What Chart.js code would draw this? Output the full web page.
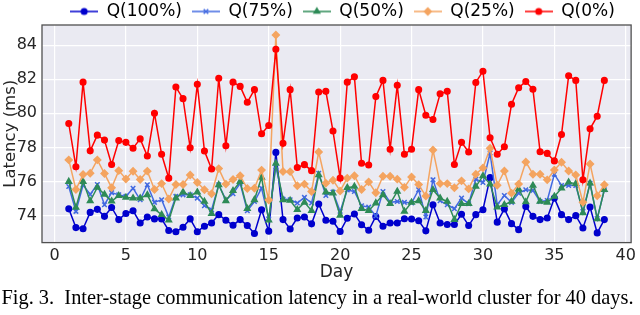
<!DOCTYPE html>
<html>
<head>
<meta charset="utf-8">
<script src="https://cdn.jsdelivr.net/npm/chart.js@4"></script>
<style>
  html, body { margin: 0; padding: 0; background: #fff; }
  #wrap { width: 640px; height: 315px; }
</style>
</head>
<body>
<div id="wrap"><canvas id="lat" width="640" height="315"></canvas></div>
<script>
// dias (cada medio dia)
const days = [1,1.5,2,2.5,3,3.5,4,4.5,5,5.5,6,6.5,7,7.5,8,8.5,9,9.5,10,10.5,
  11,11.5,12,12.5,13,13.5,14,14.5,15,15.5,16,16.5,17,17.5,18,18.5,19,19.5,20,20.5,
  21,21.5,22,22.5,23,23.5,24,24.5,25,25.5,26,26.5,27,27.5,28,28.5,29,29.5,30,30.5,
  31,31.5,32,32.5,33,33.5,34,34.5,35,35.5,36,36.5,37,37.5,38,38.5];

const q100 = [74.4,73.3,73.23,74.19,74.37,73.96,74.48,73.77,74.13,74.29,
  73.57,73.92,73.81,73.81,73.13,73.06,73.32,73.81,73.06,73.38,
  73.57,74.06,73.73,73.44,73.77,73.42,72.95,74.35,73.09,77.71,
  73.77,73.22,73.86,73.92,73.52,74.68,73.73,73.67,73.07,73.85,
  74.1,73.47,73.14,73.95,73.38,73.57,73.57,73.82,73.8,73.7,
  73.11,74.64,73.57,73.48,73.48,74.08,73.42,74.06,74.35,76.23,
  73.62,74.39,73.53,73.18,74.54,73.96,73.77,73.86,75.03,74.06,
  73.77,74.0,73.28,74.51,72.99,73.77];

const q75 = [75.71,74.25,75.8,75.25,75.83,74.64,75.35,75.22,75.13,75.61,
  74.93,75.81,74.78,74.93,73.92,75.13,75.22,75.22,75.03,74.58,
  74.35,75.81,74.93,75.28,75.9,74.29,74.83,75.61,73.81,76.87,
  74.97,74.93,74.74,75.07,74.74,76.49,75.18,75.38,74.25,75.5,
  75.42,74.58,74.5,73.98,75.42,74.78,74.83,74.78,74.74,75.52,
  73.92,76.1,74.87,74.64,74.41,75.03,74.7,76.14,75.94,77.67,
  74.64,75.18,74.78,75.32,75.52,75.48,74.83,74.89,76.43,75.77,
  75.77,75.77,74.25,75.9,73.83,75.52];

const q50 = [76.0,74.48,76.0,74.86,75.65,75.25,74.85,75.17,75.07,75.03,
  75.03,75.22,74.39,74.06,73.73,75.03,75.38,75.17,75.38,74.83,
  74.12,75.81,74.87,75.46,76.0,74.41,74.93,76.25,73.73,77.07,
  74.93,74.89,74.35,74.78,74.29,76.39,75.38,75.32,74.02,75.64,
  75.71,74.41,74.29,74.74,75.22,74.7,75.42,74.25,74.78,74.87,
  74.29,75.52,75.03,74.83,73.77,74.7,74.7,75.71,76.33,75.85,
  74.5,74.64,74.83,75.55,74.8,75.77,74.83,74.78,75.13,75.61,
  75.96,75.87,74.16,75.9,73.81,75.52];

const q25 = [77.27,75.53,76.41,76.49,77.27,76.47,75.64,76.64,76.15,76.6,
  76.12,76.61,75.53,75.88,74.98,75.83,75.83,76.38,75.94,75.52,
  75.28,76.76,75.85,76.12,76.34,75.59,75.61,76.67,74.92,84.59,
  76.59,76.58,75.75,75.85,75.42,77.73,75.9,76.08,75.45,76.2,
  76.34,75.53,75.98,75.34,76.31,76.31,76.14,75.66,76.27,75.82,
  75.15,77.85,75.88,75.88,75.64,76.04,75.57,76.43,76.8,77.95,
  75.78,76.62,75.32,75.85,77.15,76.43,76.43,76.1,76.68,77.13,
  76.62,76.39,74.78,77.03,75.17,75.81];

const q0 = [79.4,76.87,81.83,77.8,78.72,78.43,77.0,78.4,78.3,77.95,
  78.5,77.5,80.0,77.6,76.2,81.54,80.86,77.98,81.7,77.79,
  76.74,82.06,78.1,81.83,81.58,80.65,81.39,78.8,79.29,83.76,
  78.24,81.39,76.82,76.99,76.64,81.25,81.29,78.96,76.2,81.83,
  82.14,77.07,76.97,80.98,81.93,77.89,81.64,77.6,77.89,81.39,
  79.89,79.64,81.15,81.29,77.0,78.3,77.73,81.81,82.47,78.57,
  77.6,78.04,80.53,81.5,81.87,81.41,77.75,77.65,77.21,78.76,
  82.2,81.93,76.1,79.09,79.83,81.93];

const seriesNames = ['Q(100%)', 'Q(75%)', 'Q(50%)', 'Q(25%)', 'Q(0%)'];
const xTicks = [0,5,10,15,20,25,30,35,40];
const yTicks = [74,76,78,80,82,84];

// estilos de cada serie
const colores = ['#0000cd', '#4169e1', '#2e8b57', '#f4a460', '#ff0000'];
const marcas = ['circle', 'crossRot', 'triangle', 'rectRot', 'circle'];
const radios = [2.8, 3.2, 3.2, 3.4, 2.8];

const valores = [q100, q75, q50, q25, q0];

function puntos(vals) {
  return days.map((d, i) => ({x: d, y: vals[i]}));
}

// imagen pequeña para la leyenda: linea + marcador
function iconoLeyenda(i) {
  const c = document.createElement('canvas');
  c.width = 28; c.height = 12;
  const g = c.getContext('2d');
  g.strokeStyle = colores[i];
  g.fillStyle = colores[i];
  g.lineWidth = 1.5;
  g.beginPath(); g.moveTo(0, 6); g.lineTo(28, 6); g.stroke();
  Chart.helpers.drawPoint(g, {pointStyle: marcas[i], radius: radios[i], rotation: 0, borderWidth: 1.5}, 14, 6);
  return c;
}

const datasets = valores.map((vals, i) => ({
  label: seriesNames[i],
  data: puntos(vals),
  borderColor: colores[i],
  backgroundColor: colores[i],
  borderWidth: 1.5,
  pointStyle: marcas[i],
  pointRadius: radios[i],
  pointBorderWidth: 1.5,
  pointBackgroundColor: colores[i],
  pointBorderColor: colores[i],
  order: 5 - i,
  tension: 0
}));

const fondo = {
  id: 'fondo',
  beforeInit(chart) {
    const fit = chart.legend.fit;
    chart.legend.fit = function () { fit.bind(chart.legend)(); this.height = 25; };
  },
  afterLayout(chart) {
    const lg = chart.legend;
    lg.top -= 7; lg.bottom -= 7;
    lg.left += 25; lg.right += 25;
  },
  beforeDraw(chart) {
    const {ctx, chartArea: a} = chart;
    ctx.save();
    ctx.fillStyle = '#eaeaf2';
    ctx.fillRect(a.left, a.top, a.right - a.left, a.bottom - a.top);
    ctx.restore();
  },
  afterDraw(chart) {
    const {ctx, chartArea: a} = chart;
    ctx.save();
    ctx.strokeStyle = '#505050';
    ctx.lineWidth = 1.3;
    ctx.strokeRect(a.left, a.top, a.right - a.left, a.bottom - a.top);
    ctx.restore();
  }
};

new Chart(document.getElementById('lat'), {
  type: 'line',
  data: { datasets: datasets },
  options: {
    responsive: false,
    animation: false,
    layout: { padding: { left: 0, right: 5, top: 0, bottom: 0 } },
    scales: {
      x: {
        type: 'linear',
        min: -0.875,
        max: 40.375,
        afterBuildTicks: (s) => { s.ticks = xTicks.map(v => ({value: v})); },
        afterFit: (s) => { s.height = 41; },
        grid: { color: '#ffffff', lineWidth: 1.2, drawTicks: false },
        border: { display: false },
        ticks: { color: '#262626', padding: 4, maxRotation: 0, font: { family: 'DejaVu Sans', size: 16 } },
        title: { display: true, text: 'Day', color: '#262626', padding: { top: 0, bottom: 1 },
                 font: { family: 'DejaVu Sans', size: 17 } }
      },
      y: {
        min: 72.42,
        max: 85.18,
        afterBuildTicks: (s) => { s.ticks = yTicks.map(v => ({value: v})); },
        afterFit: (s) => { s.width = 42; },
        grid: { color: '#ffffff', lineWidth: 1.2, drawTicks: false },
        border: { display: false },
        ticks: { color: '#262626', padding: 5, font: { family: 'DejaVu Sans', size: 16 } },
        title: { display: true, text: 'Latency (ms)', color: '#262626', padding: { top: 1, bottom: 0 },
                 font: { family: 'DejaVu Sans', size: 16.5 } }
      }
    },
    plugins: {
      legend: {
        position: 'top',
        labels: {
          usePointStyle: true,
          pointStyleWidth: 28,
          padding: 10,
          color: '#222',
          font: { family: 'DejaVu Sans', size: 17 },
          generateLabels: (chart) => chart.data.datasets.map((ds, i) => ({
            text: ds.label,
            fillStyle: colores[i],
            strokeStyle: colores[i],
            lineWidth: 0,
            pointStyle: iconoLeyenda(i),
            hidden: false,
            datasetIndex: i
          }))
        }
      },
      title: {
        display: true,
        position: 'bottom',
        text: 'Fig. 3.  Inter-stage communication latency in a real-world cluster for 40 days.',
        color: '#000',
        padding: { top: 5, bottom: 6 },
        font: { family: 'Liberation Serif', size: 20.4, weight: 'normal', lineHeight: 1.0 }
      },
      tooltip: { enabled: false }
    }
  },
  plugins: [fondo]
});
</script>
</body>
</html>
